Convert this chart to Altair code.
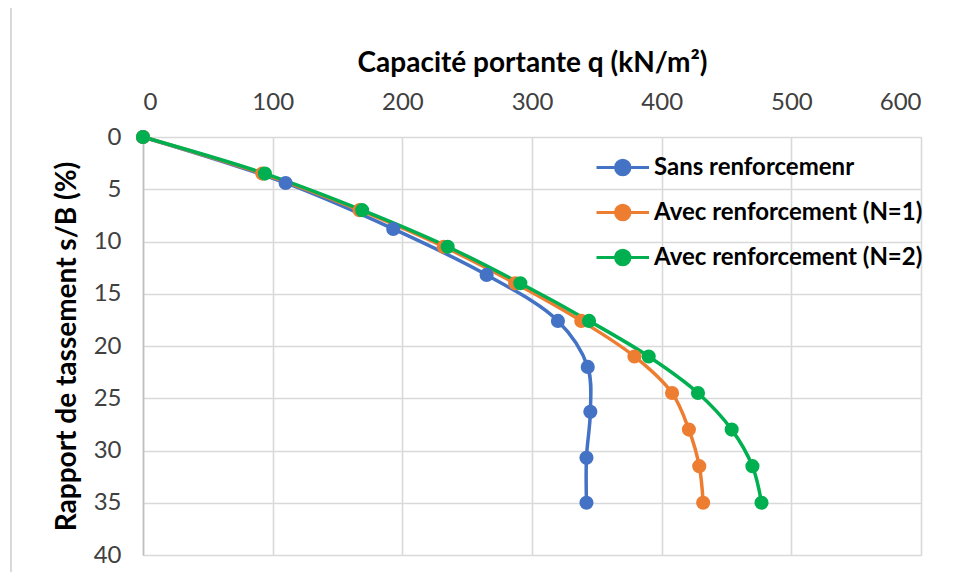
import altair as alt
import pandas as pd

series_names = ["Sans renforcemenr", "Avec renforcement (N=1)", "Avec renforcement (N=2)"]
colors = ["#4472C4", "#ED7D31", "#00B050"]

q_sans = [0, 110, 193, 265, 320, 343, 345, 342, 342]
s_sans = [0, 4.4, 8.8, 13.2, 17.6, 22.0, 26.3, 30.7, 35.0]

q_n1 = [0, 92, 167, 232, 287, 338, 379, 408, 421, 429, 432]
s_n1 = [0, 3.5, 7.0, 10.5, 14.0, 17.6, 21.0, 24.5, 28.0, 31.5, 35.0]

q_n2 = [0, 94, 169, 235, 291, 344, 390, 428, 454, 470, 477]
s_n2 = [0, 3.5, 7.0, 10.5, 14.0, 17.6, 21.0, 24.5, 28.0, 31.5, 35.0]

x_ticks = [0, 100, 200, 300, 400, 500, 600]
y_ticks = [0, 5, 10, 15, 20, 25, 30, 35, 40]

rows = []
for name, qs, ss in [(series_names[0], q_sans, s_sans),
                     (series_names[1], q_n1, s_n1),
                     (series_names[2], q_n2, s_n2)]:
    for i, (q, s) in enumerate(zip(qs, ss)):
        rows.append({"serie": name, "q": q, "s": s, "idx": i})
df = pd.DataFrame(rows)

FONT = "Lato"

color = alt.Color(
    "serie:N",
    scale=alt.Scale(domain=series_names, range=colors),
    legend=alt.Legend(
        title=None,
        orient="none",
        legendX=452,
        legendY=14,
        symbolType="M-1,0L2.5,0M0.27,0A0.48,0.48 0 1,1 1.23,0A0.48,0.48 0 1,1 0.27,0",
        symbolSize=900,
        symbolStrokeWidth=3,
        labelFontSize=24,
        labelFont=FONT,
        labelFontWeight="bold",
        labelColor="#000000",
        labelOffset=26,
        rowPadding=15,
        labelLimit=500,
    ),
)

x = alt.X(
    "q:Q",
    scale=alt.Scale(domain=[0, 600], nice=False),
    axis=alt.Axis(
        orient="top",
        title="Capacité portante q (kN/m²)",
        values=x_ticks,
        labelFontSize=24,
        labelFont=FONT,
        labelColor="#404040",
        labelPadding=23,
        titleFontSize=28,
        titleFont=FONT,
        titleFontWeight="bold",
        titleColor="#000000",
        titlePadding=13,
        ticks=False,
        domain=False,
        gridColor="#D9D9D9",
        gridWidth=1.6,
    ),
)
y = alt.Y(
    "s:Q",
    scale=alt.Scale(domain=[0, 40], reverse=True, nice=False),
    axis=alt.Axis(
        title="Rapport de tassement s/B (%)",
        values=y_ticks,
        labelFontSize=24,
        labelFont=FONT,
        labelColor="#404040",
        labelPadding=22,
        titleFontSize=28,
        titleFont=FONT,
        titleFontWeight="bold",
        titleColor="#000000",
        titlePadding=12,
        ticks=False,
        domainColor="#BFBFBF",
        domainWidth=1.6,
        gridColor="#D9D9D9",
        gridWidth=1.6,
    ),
)

base = alt.Chart(df)
lines = base.mark_line(interpolate="catmull-rom", strokeWidth=3.5).encode(
    x=x, y=y, color=color, order="idx:Q"
)
points = base.mark_point(filled=True, size=200, opacity=1).encode(
    x=x, y=y, color=color
)

# light outer frame of the chart area (decoration)
frame_df = pd.DataFrame({"k": [0]})
frame_top = alt.Chart(frame_df).mark_rule(color="#D9D9D9", strokeWidth=2).encode(
    x=alt.value(-132), x2=alt.value(830), y=alt.value(-130)
)
frame_left = alt.Chart(frame_df).mark_rule(color="#D9D9D9", strokeWidth=2).encode(
    x=alt.value(-132), y=alt.value(-130), y2=alt.value(450)
)

chart = (
    alt.layer(frame_top, frame_left, lines, points)
    .properties(
        width=778,
        height=418,
        autosize=alt.AutoSizeParams(type="none"),
        padding={"left": 135, "top": 129, "right": 30, "bottom": 17},
    )
    .configure_view(stroke="#D9D9D9", strokeWidth=1.6)
    .configure(background="white")
)

chart.save("out.html", embed_options={"renderer": "svg", "actions": False})
